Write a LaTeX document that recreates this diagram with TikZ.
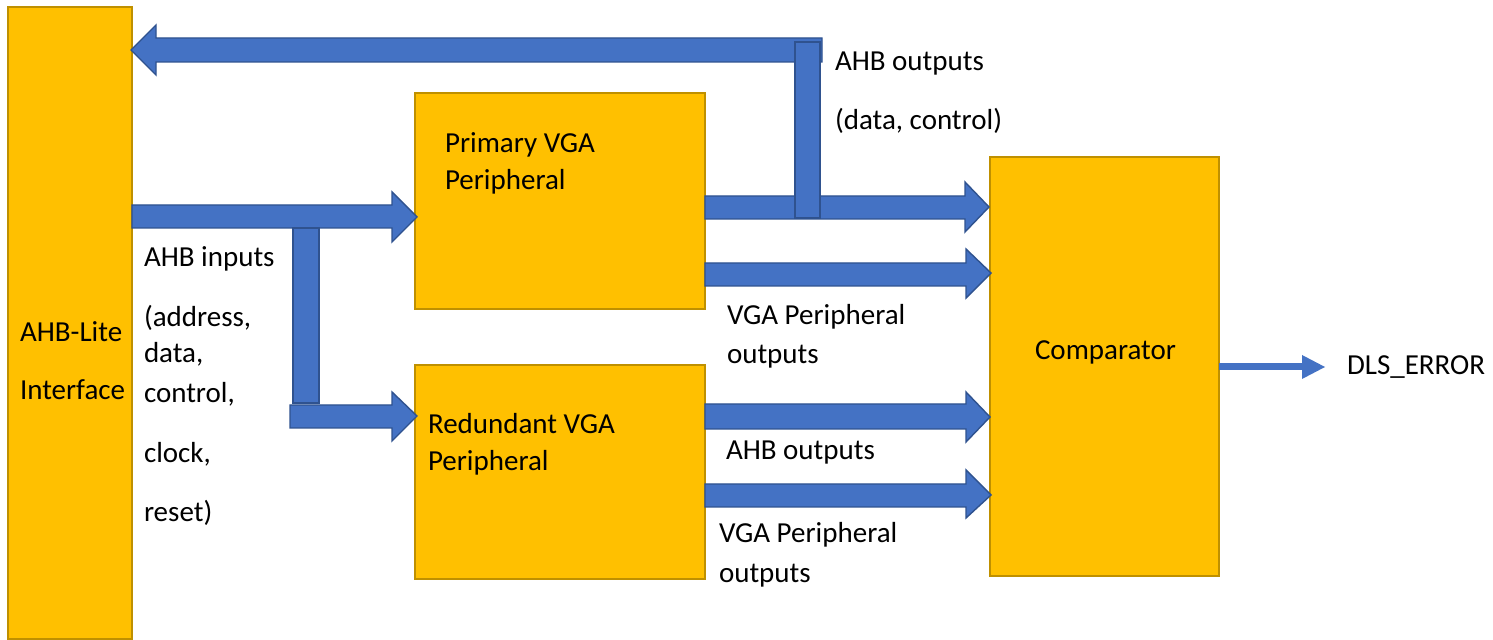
\documentclass[tikz,border=0pt]{standalone}
\usepackage{fontspec}
\setmainfont{Carlito}
\definecolor{boxfill}{HTML}{FFC000}
\definecolor{boxborder}{HTML}{BF9000}
\definecolor{arrfill}{HTML}{4472C4}
\definecolor{arrborder}{HTML}{2F528F}
\newcommand\blockR[8]{% x0, y1, y2, xh, h1, h2, xt, yt
  \filldraw[blockarrow] (#1,#2) -- (#4,#2) -- (#4,#5) -- (#7,#8) -- (#4,#6) -- (#4,#3) -- (#1,#3) -- cycle;}
\begin{document}
\begin{tikzpicture}[x=0.5pt,y=-0.5pt,
  box/.style={draw=boxborder, fill=boxfill, line width=1pt, inner sep=0pt, outer sep=0pt, anchor=north west},
  blockarrow/.style={draw=arrborder, fill=arrfill, line width=0.7pt, line join=miter},
  lbl/.style={anchor=base west, inner sep=0pt, outer sep=0pt, font=\fontsize{14.5}{17}\selectfont}]
\useasboundingbox[fill=white] (0,0) rectangle (1493,640);
% boxes
\node[box, minimum width=62pt, minimum height=316pt] (ahb) at (8,7) {};
\node[box, minimum width=145pt, minimum height=108pt] (prim) at (415,93) {};
\node[box, minimum width=145pt, minimum height=107pt] (red) at (415,365) {};
\node[box, minimum width=114.5pt, minimum height=209.5pt] (comp) at (990,157) {};
% feedback arrow (AHB outputs back to interface)
\filldraw[blockarrow] (822,38) -- (156,38) -- (156,25) -- (131,50) -- (156,75) -- (156,62) -- (822,62) -- cycle;
% primary -> comparator
\blockR{705}{196}{219}{965}{182}{232}{989}{207}
\blockR{705}{263}{286}{966}{249}{298}{991}{273}
% vertical feedback bar
\filldraw[blockarrow] (795,42) rectangle (820,218);
% inputs
\blockR{132}{205}{228}{392}{192}{242}{417}{217}
\filldraw[blockarrow] (293,228) rectangle (319,403);
\blockR{290}{405}{428}{392}{392}{441}{417}{416}
% redundant -> comparator
\blockR{705}{404}{429}{966}{392}{442}{990}{417}
\blockR{705}{484}{507}{966}{470}{518}{991}{495}
% DLS_ERROR output
\coordinate (dlsend) at (1302,367);
\draw[arrfill, line width=3.5pt] (comp.east |- dlsend) -- (dlsend);
\fill[arrfill] (1302,355) -- (1325,367) -- (1302,379) -- cycle;
% labels
\node[lbl] (t1) at (835,71) {AHB outputs};
\node[lbl] (t2) at (835,130) {(data, control)};
\node[lbl] (p1) at (445,153) {Primary VGA};
\node[lbl] (p2) at (445,190) {Peripheral};
\node[lbl] (i1) at (144,267) {AHB inputs};
\node[lbl] (i2) at (144,327) {(address,};
\node[lbl] (i3) at (144,363) {data,};
\node[lbl] (i4) at (144,403) {control,};
\node[lbl] (i5) at (144,463) {clock,};
\node[lbl] (i6) at (144,522) {reset)};
\node[lbl] (a1) at (20,342) {AHB-Lite};
\node[lbl] (a2) at (20,400) {Interface};
\node[lbl] (v1) at (727,325) {VGA Peripheral};
\node[lbl] (v2) at (727,364) {outputs};
\node[lbl] (r1) at (428,434) {Redundant VGA};
\node[lbl] (r2) at (428,471) {Peripheral};
\node[lbl] (o1) at (726,460) {AHB outputs};
\node[lbl] (w1) at (719,543) {VGA Peripheral};
\node[lbl] (w2) at (719,582) {outputs};
\node[lbl] (c1) at (1035,360) {Comparator};
\node[lbl] (d1) at (1347,375) {DLS\_ERROR};
\end{tikzpicture}
\end{document}
